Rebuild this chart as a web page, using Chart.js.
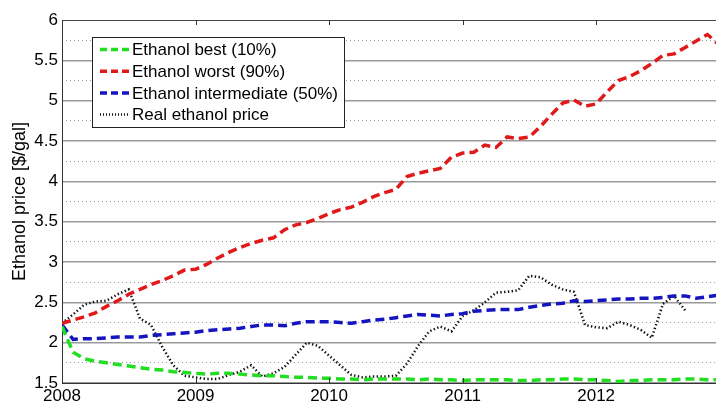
<!DOCTYPE html>
<html>
<head>
<meta charset="utf-8">
<title>Ethanol price</title>
<script src="https://cdn.jsdelivr.net/npm/chart.js@4.4.1/dist/chart.umd.min.js"></script>
<style>
  html, body { margin: 0; padding: 0; background: #fff; overflow: hidden; }
  #wrap { width: 719px; height: 405px; }
</style>
</head>
<body>
<div id="wrap"><canvas id="priceChart"></canvas></div>
<script>
// Monthly values starting January 2008
var startYear = 2008;

var bestCase = [2.20, 1.88, 1.80, 1.77, 1.75, 1.73, 1.71, 1.69, 1.67, 1.66, 1.64, 1.63,
                1.62, 1.61, 1.62, 1.62, 1.61, 1.60, 1.59, 1.59, 1.58, 1.57, 1.57, 1.56,
                1.56, 1.55, 1.55, 1.54, 1.55, 1.55, 1.55, 1.55, 1.54, 1.55, 1.54, 1.54,
                1.53, 1.54, 1.54, 1.54, 1.54, 1.53, 1.53, 1.54, 1.54, 1.55, 1.55, 1.54,
                1.54, 1.53, 1.52, 1.53, 1.53, 1.54, 1.54, 1.54, 1.55, 1.55, 1.54, 1.54];

var worstCase = [2.24, 2.28, 2.32, 2.37, 2.45, 2.52, 2.60, 2.66, 2.72, 2.77, 2.83, 2.90,
                 2.91, 2.97, 3.05, 3.12, 3.18, 3.23, 3.27, 3.30, 3.40, 3.46, 3.49, 3.54,
                 3.60, 3.65, 3.68, 3.74, 3.81, 3.86, 3.90, 4.06, 4.10, 4.13, 4.16, 4.30,
                 4.35, 4.36, 4.45, 4.42, 4.55, 4.53, 4.55, 4.68, 4.83, 4.97, 5.01, 4.93,
                 4.96, 5.11, 5.25, 5.30, 5.37, 5.46, 5.56, 5.58, 5.66, 5.74, 5.82, 5.70];

var midCase = [2.22, 2.04, 2.05, 2.05, 2.06, 2.07, 2.07, 2.07, 2.09, 2.10, 2.11, 2.12,
               2.13, 2.15, 2.16, 2.17, 2.18, 2.20, 2.22, 2.22, 2.21, 2.24, 2.26, 2.26,
               2.26, 2.25, 2.24, 2.26, 2.28, 2.29, 2.31, 2.33, 2.35, 2.34, 2.33, 2.35,
               2.36, 2.39, 2.40, 2.41, 2.41, 2.41, 2.44, 2.46, 2.48, 2.49, 2.52, 2.51,
               2.52, 2.53, 2.54, 2.54, 2.55, 2.55, 2.56, 2.58, 2.58, 2.55, 2.57, 2.59];

var realPrice = [2.24, 2.35, 2.47, 2.51, 2.52, 2.60, 2.66, 2.30, 2.22, 1.95, 1.72, 1.59,
                 1.57, 1.55, 1.55, 1.60, 1.64, 1.72, 1.58, 1.62, 1.70, 1.85, 2.00, 1.96,
                 1.84, 1.72, 1.60, 1.57, 1.58, 1.58, 1.59, 1.74, 1.96, 2.14, 2.20, 2.14,
                 2.33, 2.40, 2.50, 2.62, 2.63, 2.65, 2.83, 2.81, 2.72, 2.66, 2.63, 2.22,
                 2.19, 2.18, 2.26, 2.22, 2.16, 2.06, 2.48, 2.58, 2.40];

var yearTicks = [2008, 2009, 2010, 2011, 2012];
var majorTicks = [1.5, 2, 2.5, 3, 3.5, 4, 4.5, 5, 5.5, 6];
var minorTicks = [1.75, 2.25, 2.75, 3.25, 3.75, 4.25, 4.75, 5.25, 5.75];

var FONT = '"Liberation Sans", Arial, sans-serif';

function toPoints(values) {
    return values.map(function (v, i) {
        return { x: startYear + i / 12, y: v };
    });
}

// Small inward tick marks on the top and bottom frame
var frameTicks = {
    id: 'frameTicks',
    afterDraw: function (chart) {
        var ctx = chart.ctx;
        var area = chart.chartArea;
        var xs = chart.scales.x;
        ctx.save();
        ctx.strokeStyle = '#333';
        ctx.lineWidth = 1;
        yearTicks.forEach(function (yr) {
            var px = Math.round(xs.getPixelForValue(yr)) + 0.5;
            ctx.beginPath();
            ctx.moveTo(px, area.top);
            ctx.lineTo(px, area.top + 5);
            ctx.moveTo(px, area.bottom);
            ctx.lineTo(px, area.bottom - 5);
            ctx.stroke();
        });
        ctx.restore();
    }
};

// Boxed legend in the upper left of the plot
var boxLegend = {
    id: 'boxLegend',
    afterDraw: function (chart) {
        var ctx = chart.ctx;
        var area = chart.chartArea;
        var sets = chart.data.datasets;
        ctx.save();
        ctx.font = '17px ' + FONT;
        var maxW = 0;
        sets.forEach(function (ds) {
            maxW = Math.max(maxW, ctx.measureText(ds.label).width);
        });
        var left = area.left + 30;
        var top = area.top + 17;
        var rowH = 21.7;
        var w = 8 + 29 + 3 + maxW + 6;
        var h = rowH * sets.length + 3;
        ctx.fillStyle = '#fff';
        ctx.fillRect(left, top, w, h);
        ctx.strokeStyle = '#222';
        ctx.lineWidth = 1;
        ctx.strokeRect(Math.round(left) + 0.5, Math.round(top) + 0.5, Math.round(w), Math.round(h));
        sets.forEach(function (ds, i) {
            var cy = top + 12.5 + i * rowH;
            ctx.setLineDash(ds.legendDash);
            ctx.strokeStyle = ds.borderColor;
            ctx.lineWidth = ds.borderWidth;
            ctx.beginPath();
            ctx.moveTo(left + 8, cy);
            ctx.lineTo(left + 37, cy);
            ctx.stroke();
            ctx.setLineDash([]);
            ctx.fillStyle = '#000';
            ctx.textAlign = 'left';
            ctx.textBaseline = 'middle';
            ctx.fillText(ds.label, left + 40, cy + 1);
        });
        ctx.restore();
    }
};

var ctx = document.getElementById('priceChart').getContext('2d');
new Chart(ctx, {
    type: 'line',
    data: {
        datasets: [{
            label: 'Ethanol best (10%)',
            data: toPoints(bestCase),
            borderColor: '#22dd22',
            borderWidth: 3.5,
            borderDash: [9, 5],
            legendDash: [7, 4]
        }, {
            label: 'Ethanol worst (90%)',
            data: toPoints(worstCase),
            borderColor: '#e01a1a',
            borderWidth: 3.5,
            borderDash: [9, 5],
            legendDash: [7, 4]
        }, {
            label: 'Ethanol intermediate (50%)',
            data: toPoints(midCase),
            borderColor: '#1515c0',
            borderWidth: 3.5,
            borderDash: [9, 5],
            legendDash: [7, 4]
        }, {
            label: 'Real ethanol price',
            data: toPoints(realPrice),
            borderColor: '#111',
            borderWidth: 2.5,
            borderDash: [1.4, 2.4],
            legendDash: [1, 2]
        }]
    },
    options: {
        responsive: true,
        maintainAspectRatio: false,
        animation: false,
        devicePixelRatio: 1,
        layout: { padding: { top: 20, right: 0, bottom: 0, left: 0 } },
        elements: {
            point: { radius: 0, hoverRadius: 0 },
            line: { tension: 0, fill: false }
        },
        plugins: {
            legend: { display: false },
            tooltip: { enabled: false }
        },
        scales: {
            x: {
                type: 'linear',
                position: 'bottom',
                min: 2008,
                max: 2012.92,
                afterBuildTicks: function (scale) {
                    scale.ticks = yearTicks.map(function (v) { return { value: v }; });
                },
                afterFit: function (scale) { scale.height = 22; },
                grid: { display: true, drawOnChartArea: false, drawTicks: false },
                border: { display: true, color: '#333', width: 1 },
                ticks: {
                    padding: 3,
                    color: '#000',
                    font: { family: FONT, size: 17 },
                    maxRotation: 0,
                    autoSkip: false,
                    callback: function (v) { return String(v); }
                }
            },
            y: {
                position: 'left',
                min: 1.5,
                max: 6,
                afterBuildTicks: function (scale) {
                    scale.ticks = majorTicks.map(function (v) { return { value: v }; });
                },
                afterFit: function (scale) { scale.width = 62; },
                grid: {
                    drawTicks: false,
                    color: function (c) {
                        return (c.tick && c.tick.value === 6) ? '#444' : '#9a9a9a';
                    },
                    lineWidth: function (c) {
                        return (c.tick && c.tick.value === 6) ? 1 : 1.5;
                    }
                },
                border: { display: true, color: '#333', width: 1 },
                ticks: {
                    padding: 4,
                    color: '#000',
                    font: { family: FONT, size: 17 },
                    autoSkip: false,
                    callback: function (v) { return String(v); }
                },
                title: {
                    display: true,
                    text: 'Ethanol price [$/gal]',
                    color: '#000',
                    font: { family: FONT, size: 18 },
                    padding: { top: 9, bottom: 0 }
                }
            },
            yMinor: {
                position: 'left',
                min: 1.5,
                max: 6,
                afterBuildTicks: function (scale) {
                    scale.ticks = minorTicks.map(function (v) { return { value: v }; });
                },
                afterFit: function (scale) { scale.width = 0; },
                grid: { drawTicks: false, color: '#999', lineWidth: 1 },
                border: { display: false, dash: [1, 3] },
                ticks: { display: false }
            }
        }
    },
    plugins: [frameTicks, boxLegend]
});
</script>
</body>
</html>
